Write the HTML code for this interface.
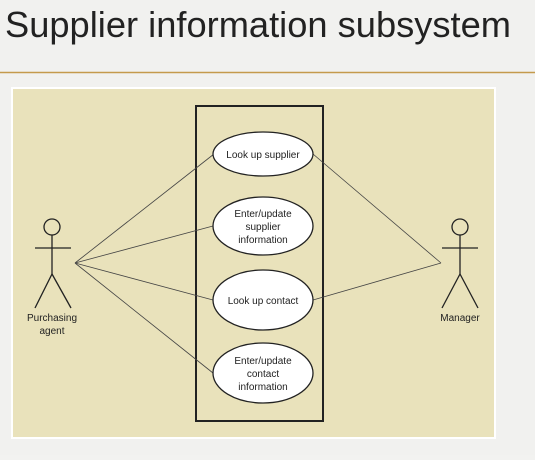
<!DOCTYPE html>
<html><head><style>
body{margin:0;width:535px;height:455px;background:#f2f2f0;overflow:hidden;font-family:"Liberation Sans",sans-serif;}
</style></head><body>
<svg width="535" height="455" xmlns="http://www.w3.org/2000/svg">
<rect width="535" height="455" fill="#f1f1ef"/>
<text x="5" y="37" font-family="Liberation Sans" font-size="36" textLength="506" lengthAdjust="spacingAndGlyphs" fill="#222">Supplier information subsystem</text>
<line x1="0" y1="72.5" x2="535" y2="72.5" stroke="#c49a4c" stroke-width="1.5"/>
<rect x="11" y="87" width="485" height="352" fill="#fff"/>
<rect x="13" y="89" width="481" height="348" fill="#e9e2bb"/>
<rect x="196" y="106" width="127" height="315" fill="none" stroke="#222" stroke-width="2"/>
<g stroke="#444" stroke-width="0.8">
<line x1="75" y1="263" x2="214" y2="154"/>
<line x1="75" y1="263" x2="213" y2="226"/>
<line x1="75" y1="263" x2="213" y2="300"/>
<line x1="75" y1="263" x2="213" y2="373"/>
<line x1="441" y1="263" x2="313" y2="154"/>
<line x1="441" y1="263" x2="313" y2="300"/>
</g>
<g fill="#fff" stroke="#222" stroke-width="1.3">
<ellipse cx="263" cy="154" rx="50" ry="22"/>
<ellipse cx="263" cy="226" rx="50" ry="29"/>
<ellipse cx="263" cy="300" rx="50" ry="30"/>
<ellipse cx="263" cy="373" rx="50" ry="30"/>
</g>
<g font-family="Liberation Sans" font-size="10" fill="#222" text-anchor="middle">
<text x="263" y="158">Look up supplier</text>
<text x="263" y="217">Enter/update</text>
<text x="263" y="230">supplier</text>
<text x="263" y="243">information</text>
<text x="263" y="304">Look up contact</text>
<text x="263" y="364">Enter/update</text>
<text x="263" y="377">contact</text>
<text x="263" y="390">information</text>
<text x="52" y="321">Purchasing</text>
<text x="52" y="334">agent</text>
<text x="460" y="321">Manager</text>
</g>
<g stroke="#222" stroke-width="1.3" fill="none">
<circle cx="52" cy="227" r="8"/>
<line x1="35" y1="248" x2="71" y2="248"/>
<line x1="52" y1="235" x2="52" y2="274"/>
<line x1="52" y1="274" x2="35" y2="308"/>
<line x1="52" y1="274" x2="71" y2="308"/>
<circle cx="460" cy="227" r="8"/>
<line x1="442" y1="248" x2="478" y2="248"/>
<line x1="460" y1="235" x2="460" y2="274"/>
<line x1="460" y1="274" x2="442" y2="308"/>
<line x1="460" y1="274" x2="478" y2="308"/>
</g>
</svg>
</body></html>
